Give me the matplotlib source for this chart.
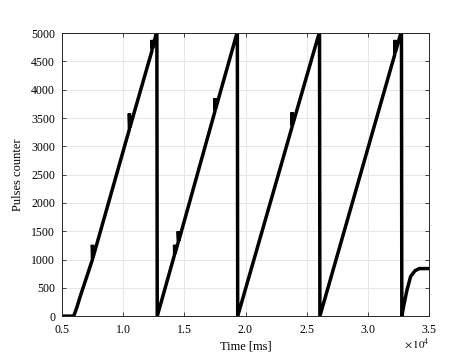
import matplotlib
matplotlib.use("Agg")
import matplotlib.pyplot as plt
from matplotlib.ticker import ScalarFormatter

# Time [ms] and pulse counter values (piecewise)
time_ms = [5000, 5900, 6000, 6200, 6500, 6900, 7480, 7480, 7520,
           10500, 10500, 10540, 12350, 12350, 12400, 12700, 12750, 12780,
           14200, 14200, 14240, 14500, 14500, 14540, 17500, 17500, 17540,
           19300, 19330, 19360,
           23800, 23800, 23840, 26020, 26050, 26080,
           32200, 32200, 32250, 32700, 32750, 32780,
           32950, 33200, 33500, 33850, 34200, 35000]
pulses = [0, 0, 30, 150, 360, 620, 1000, 1260, 1030,
          3300, 3580, 3330, 4690, 4880, 4730, 5000, 5000, 0,
          1090, 1260, 1110, 1310, 1500, 1330, 3620, 3850, 3650,
          5000, 5000, 0,
          3340, 3600, 3370, 5000, 5000, 0,
          4620, 4880, 4660, 5000, 5000, 0,
          200, 460, 700, 800, 840, 840]

x_ticks = [5000, 10000, 15000, 20000, 25000, 30000, 35000]
y_ticks = list(range(0, 5001, 500))

plt.rcParams['font.family'] = ['Liberation Serif', 'DejaVu Serif']
plt.rcParams['mathtext.fontset'] = 'stix'

fig = plt.figure(figsize=(4.74, 3.56), dpi=100)
ax = fig.add_axes([0.131, 0.112, 0.774, 0.795])
ax.plot(time_ms, pulses, color='black', lw=2.5, solid_joinstyle='miter')

ax.set_xlim(5000, 35000)
ax.set_ylim(0, 5000)
ax.set_xticks(x_ticks)
ax.set_yticks(y_ticks)
fmt = ScalarFormatter(useMathText=True)
fmt.set_powerlimits((0, 0))
ax.xaxis.set_major_formatter(fmt)
ax.xaxis.get_offset_text().set_visible(False)
ax.text(1.0, -0.098, r'$\times\,10^4$', transform=ax.transAxes,
        ha='right', va='center', fontsize=8)

ax.grid(True, color='#e6e6e6', lw=0.7)
ax.set_axisbelow(True)
ax.tick_params(direction='in', top=True, right=True, labelsize=8.5,
               length=3, width=0.6, colors='#262626', labelcolor='black')
ax.tick_params(axis='x', pad=6)
ax.tick_params(axis='y', pad=5)
for s in ax.spines.values():
    s.set_color('#262626')
    s.set_linewidth(0.7)

ax.set_xlabel('Time [ms]', fontsize=9, labelpad=3)
ax.set_ylabel('Pulses counter', fontsize=9, labelpad=5)

fig.savefig('out.png', dpi=100)
